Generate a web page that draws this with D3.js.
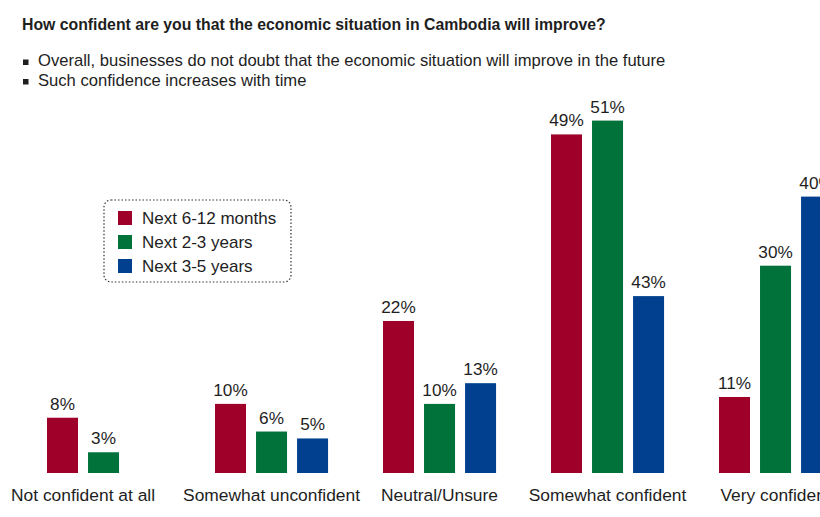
<!DOCTYPE html>
<html>
<head>
<meta charset="utf-8">
<script src="https://cdn.jsdelivr.net/npm/d3@7"></script>
<style>
  html, body { margin: 0; padding: 0; background: #fff; overflow: hidden; }
  svg { display: block; }
  .txt { font-family: "Liberation Sans", Arial, sans-serif; fill: #1e1e1e; }
</style>
</head>
<body>
<div id="chart"></div>
<script>
const title = "How confident are you that the economic situation in Cambodia will improve?";
const bullets = [
  "Overall, businesses do not doubt that the economic situation will improve in the future",
  "Such confidence increases with time",
];

const categories = ["Not confident at all", "Somewhat unconfident", "Neutral/Unsure", "Somewhat confident", "Very confident"];
const seriesNames = ["Next 6-12 months", "Next 2-3 years", "Next 3-5 years"];
const colors = ["#9e0029", "#00723a", "#01408f"];

// printed percentages
const next6to12 = [8, 10, 22, 49, 11];
const next2to3 = [3, 6, 10, 51, 30];
const next3to5 = [null, 5, 13, 43, 40];
// bar heights as drawn in the source (its 43% bar is drawn much shorter)
const next3to5Bar = [null, 5, 13, 25.6, 40];

const width = 820;
const height = 517;

const series = [
  { name: seriesNames[0], values: next6to12, bars: next6to12 },
  { name: seriesNames[1], values: next2to3, bars: next2to3 },
  { name: seriesNames[2], values: next3to5, bars: next3to5Bar },
];

const rows = categories.flatMap((cat, i) =>
  series
    .map((s, j) => ({ cat, key: s.name, color: colors[j], value: s.values[i], bar: s.bars[i] }))
    .filter((d) => d.value != null)
);

const svg = d3.select("#chart").append("svg").attr("width", width).attr("height", height);

// header
svg.append("text")
  .attr("class", "txt")
  .attr("x", 22)
  .attr("y", 30)
  .attr("font-size", 15.8)
  .attr("font-weight", "bold")
  .text(title);

const bl = svg.append("g").selectAll("g").data(bullets).join("g")
  .attr("transform", (d, i) => `translate(0,${66 + i * 19.5})`);
bl.append("rect").attr("x", 23).attr("y", -6.5).attr("width", 5.5).attr("height", 5.5).attr("fill", "#1e1e1e");
bl.append("text").attr("class", "txt").attr("x", 38).attr("font-size", 16.6).text((d) => d);

// scales
const groupStep = 168;
const innerPad = 0.327;
const x0 = d3.scaleBand()
  .domain(categories)
  .range([47, 47 + groupStep * (categories.length - innerPad)])
  .paddingInner(innerPad)
  .paddingOuter(0);

const x1 = d3.scaleBand()
  .domain(seriesNames)
  .range([0, x0.bandwidth()])
  .paddingInner(0.244)
  .paddingOuter(0);

const y = d3.scaleLinear().domain([0, 55]).range([473, 473 - 55 * 6.91]);

const barX = (d) => x0(d.cat) + x1(d.key);

svg.append("g")
  .selectAll("rect")
  .data(rows)
  .join("rect")
  .attr("x", barX)
  .attr("y", (d) => y(d.bar))
  .attr("width", x1.bandwidth())
  .attr("height", (d) => y(0) - y(d.bar))
  .attr("fill", (d) => d.color);

svg.append("g")
  .attr("text-anchor", "middle")
  .selectAll("text")
  .data(rows)
  .join("text")
  .attr("class", "txt")
  .attr("font-size", 17.2)
  .attr("x", (d) => barX(d) + x1.bandwidth() / 2)
  .attr("y", (d) => y(d.bar) - 8)
  .text((d) => d.value + "%");

// category labels, centred under the bars that are present
const catCentre = (cat) => {
  const r = rows.filter((d) => d.cat === cat);
  return d3.mean(r, (d) => barX(d) + x1.bandwidth() / 2);
};

svg.append("g")
  .attr("text-anchor", "middle")
  .selectAll("text")
  .data(categories)
  .join("text")
  .attr("class", "txt")
  .attr("font-size", 17.4)
  .attr("x", catCentre)
  .attr("y", 501)
  .text((d) => d);

// legend
const legend = svg.append("g").attr("transform", "translate(104,200)");
legend.append("rect")
  .attr("width", 187)
  .attr("height", 82)
  .attr("rx", 7)
  .attr("fill", "none")
  .attr("stroke", "#333")
  .attr("stroke-width", 1.2)
  .attr("stroke-dasharray", "1.5 2");

const li = legend.selectAll("g.item").data(seriesNames).join("g")
  .attr("class", "item")
  .attr("transform", (d, i) => `translate(14,${18 + i * 24})`);
li.append("rect").attr("y", -7).attr("width", 14).attr("height", 14).attr("fill", (d, i) => colors[i]);
li.append("text").attr("class", "txt").attr("x", 24).attr("y", 6).attr("font-size", 17).text((d) => d);
</script>
</body>
</html>
